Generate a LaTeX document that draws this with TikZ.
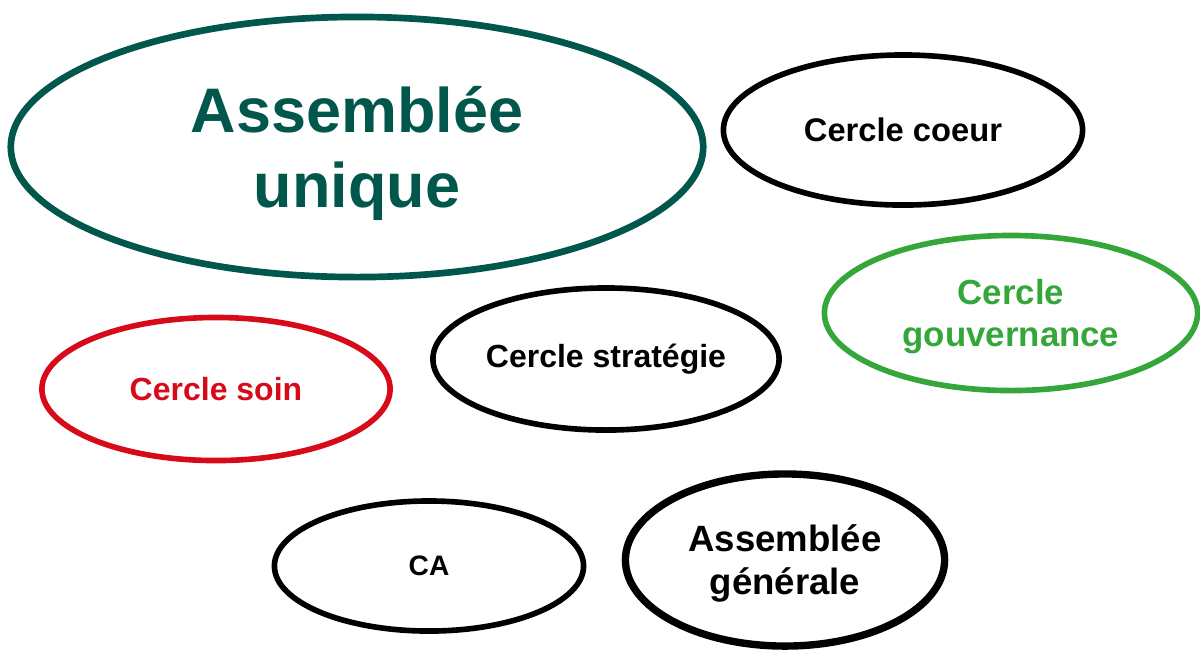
\documentclass[tikz,border=0pt]{standalone}
\usepackage{fontspec}
\setmainfont{Liberation Sans}
\usetikzlibrary{shapes.geometric}

\definecolor{tealdark}{HTML}{02574C}
\definecolor{cerclegreen}{HTML}{35A73A}
\definecolor{cerclered}{HTML}{D70A1A}

\begin{document}
\begin{tikzpicture}[x=0.01cm, y=-0.01cm]
% Define node styles
\tikzstyle{cercle} = [ellipse, draw, inner sep=0pt, line width=1.6pt, align=center, font=\bfseries\fontsize{9.3pt}{12pt}\selectfont]
\tikzstyle{grand} = [cercle, line width=1.9pt, font=\bfseries\fontsize{17.9pt}{21.3pt}\selectfont]

\useasboundingbox (0,0) rectangle (1200,650);

% Draw nodes
\node[grand, draw=tealdark, text=tealdark, minimum width=6.92cm, minimum height=2.6cm, text depth=0pt] (unique) at (357,147) {Assemblée\\unique};
\node[cercle, minimum width=3.59cm, minimum height=1.5cm] (coeur) at (903,130) {Cercle coeur};
\node[cercle, draw=cerclegreen, text=cerclegreen, minimum width=3.73cm, minimum height=1.55cm, text depth=-0.7pt, font=\bfseries\fontsize{9.9pt}{12pt}\selectfont] (gouvernance) at (1011,313) {Cercle\\gouvernance};
\node[cercle, draw=cerclered, text=cerclered, minimum width=3.48cm, minimum height=1.43cm, font=\bfseries\fontsize{9.1pt}{12pt}\selectfont] (soin) at (216,389) {Cercle soin};
\node[cercle, minimum width=3.46cm, minimum height=1.42cm, font=\bfseries\fontsize{9.1pt}{12pt}\selectfont] (strategie) at (606,359) {Cercle stratégie};
\node[cercle, minimum width=3.09cm, minimum height=1.3cm, font=\bfseries\fontsize{8pt}{12pt}\selectfont] (ca) at (429,566) {CA};
\node[cercle, line width=2.1pt, minimum width=3.19cm, minimum height=1.72cm, text depth=-0.6pt, font=\bfseries\fontsize{10.4pt}{12.2pt}\selectfont] (ag) at (785,560) {Assemblée\\générale};
\end{tikzpicture}
\end{document}
